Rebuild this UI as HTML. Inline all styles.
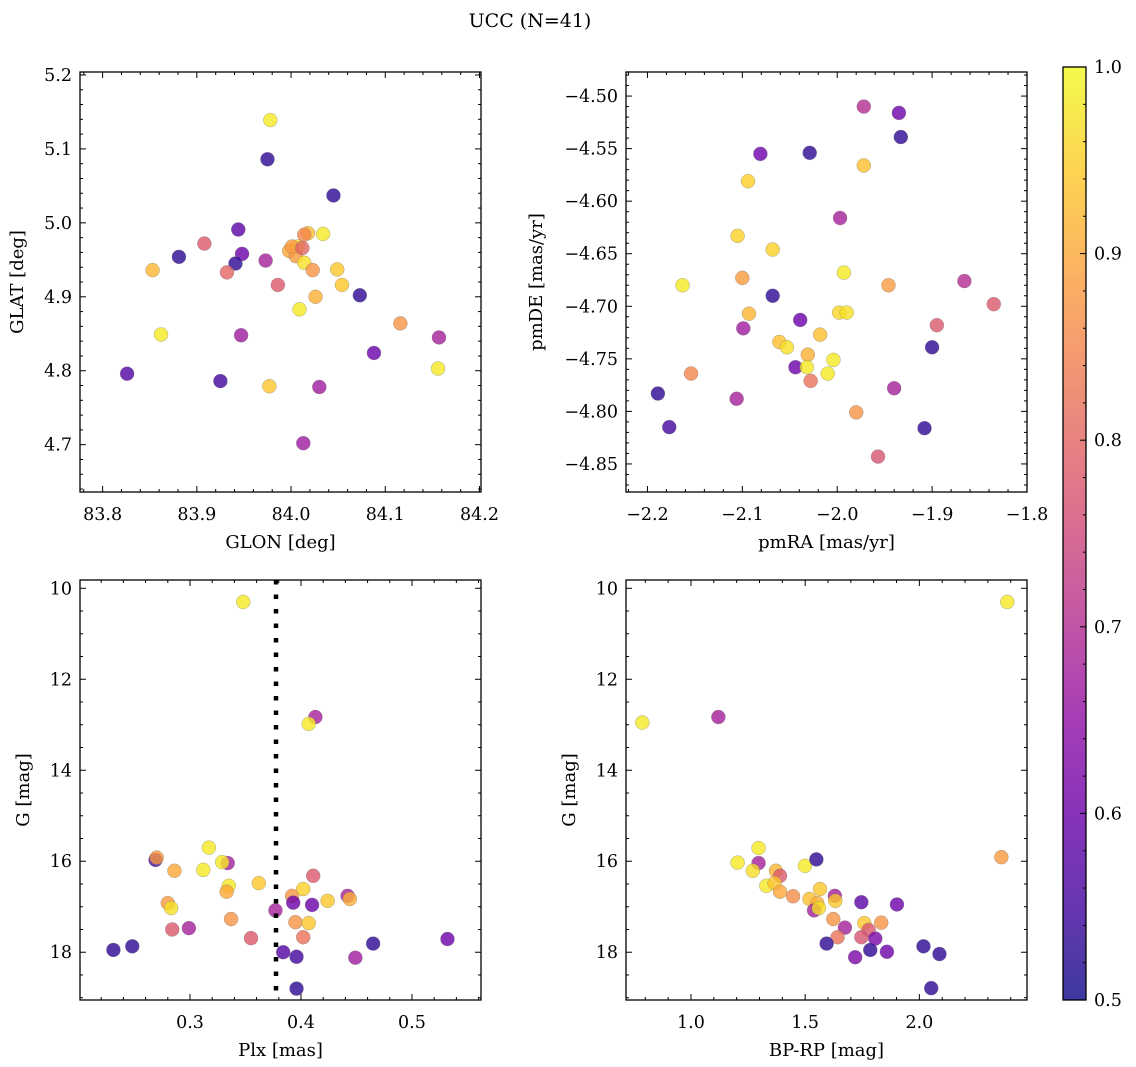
<!DOCTYPE html>
<html><head><meta charset="utf-8">
<style>
html,body{margin:0;padding:0;background:#fff;}
svg{display:block;font-family:"DejaVu Serif","Liberation Serif",serif;}
</style></head>
<body>
<svg id="fig" width="1136" height="1067" viewBox="0 0 1136 1067" xmlns="http://www.w3.org/2000/svg">
<text x="530" y="27" font-size="19" text-anchor="middle" fill="#000">UCC (N=41)</text>
</svg>
<script>
// ---- Panel 1: GLON vs GLAT ----
const p1Glon=[83.978,83.975,84.045,83.944,83.908,83.881,83.853,83.948,83.941,83.932,83.973,83.986,84.018,84.034,83.998,84.007,84.005,84.014,84.023,84.049,84.054,84.073,84.026,84.009,84.116,84.157,84.088,84.156,83.862,83.947,83.826,83.925,83.977,84.030,84.013,84.014,84.001,84.012];
const p1Glat=[5.139,5.086,5.037,4.991,4.972,4.954,4.936,4.958,4.945,4.933,4.949,4.916,4.986,4.985,4.962,4.968,4.955,4.946,4.936,4.937,4.916,4.902,4.900,4.883,4.864,4.845,4.824,4.803,4.849,4.848,4.796,4.786,4.779,4.778,4.702,4.984,4.968,4.966];
const p1Prob=[0.98,0.53,0.53,0.58,0.78,0.53,0.92,0.6,0.53,0.8,0.68,0.78,0.93,0.98,0.9,0.97,0.88,0.97,0.87,0.94,0.94,0.53,0.91,0.98,0.87,0.68,0.6,0.98,0.98,0.67,0.57,0.55,0.94,0.67,0.67,0.85,0.88,0.8];
// ---- Panel 2: pmRA vs pmDE ----
const p2PmRA=[-1.972,-1.935,-1.933,-2.081,-2.029,-1.972,-2.094,-1.997,-2.105,-2.068,-1.993,-2.163,-2.100,-1.946,-1.866,-1.835,-2.068,-2.093,-1.998,-1.990,-2.039,-2.099,-1.895,-2.018,-2.061,-2.053,-1.900,-2.031,-2.004,-2.044,-2.032,-2.010,-2.154,-2.028,-2.189,-2.106,-1.940,-1.980,-2.177,-1.908,-1.957];
const p2PmDE=[-4.510,-4.516,-4.539,-4.555,-4.554,-4.566,-4.581,-4.616,-4.633,-4.646,-4.668,-4.680,-4.673,-4.680,-4.676,-4.698,-4.690,-4.707,-4.706,-4.706,-4.713,-4.721,-4.718,-4.727,-4.734,-4.739,-4.739,-4.746,-4.751,-4.758,-4.758,-4.764,-4.764,-4.771,-4.783,-4.788,-4.778,-4.801,-4.815,-4.816,-4.843];
const p2Prob=[0.7,0.6,0.53,0.6,0.53,0.93,0.95,0.68,0.95,0.95,0.98,0.98,0.88,0.88,0.7,0.78,0.53,0.92,0.96,0.97,0.6,0.67,0.78,0.93,0.93,0.97,0.53,0.91,0.98,0.6,0.98,0.98,0.85,0.82,0.53,0.68,0.68,0.87,0.55,0.53,0.77];
// ---- Panel 3: Plx vs G ----
const p3Plx=[0.348,0.413,0.407,0.269,0.270,0.317,0.286,0.312,0.334,0.329,0.335,0.333,0.362,0.280,0.283,0.337,0.284,0.299,0.355,0.231,0.248,0.377,0.392,0.393,0.402,0.411,0.410,0.424,0.442,0.444,0.395,0.407,0.402,0.465,0.532,0.384,0.396,0.449,0.396];
const p3G=[10.30,12.83,12.98,15.97,15.92,15.70,16.21,16.19,16.04,16.02,16.54,16.67,16.48,16.92,17.03,17.27,17.50,17.47,17.69,17.95,17.87,17.08,16.76,16.91,16.61,16.32,16.96,16.87,16.76,16.83,17.34,17.36,17.67,17.81,17.71,18.00,18.10,18.12,18.80];
const p3Prob=[0.98,0.68,0.98,0.55,0.88,0.98,0.9,0.98,0.68,0.98,0.98,0.9,0.94,0.88,0.97,0.87,0.78,0.68,0.78,0.53,0.53,0.68,0.87,0.6,0.95,0.78,0.6,0.94,0.68,0.91,0.87,0.94,0.82,0.53,0.6,0.57,0.55,0.67,0.53];
const plxLine=0.3775;
// ---- Panel 4: BP-RP vs G ----
const p4Color=[2.385,0.787,1.12,2.359,1.296,1.204,1.296,1.271,1.499,1.549,1.372,1.390,1.330,1.366,1.390,1.447,1.565,1.519,1.553,1.539,1.560,1.630,1.632,1.746,1.902,1.623,1.759,1.833,1.674,1.778,1.642,1.746,1.807,1.594,2.018,1.785,1.858,2.088,1.719,2.052];
const p4G=[10.30,12.95,12.83,15.91,15.71,16.03,16.04,16.21,16.10,15.96,16.21,16.32,16.54,16.48,16.67,16.77,16.61,16.83,16.92,17.08,17.03,16.76,16.87,16.90,16.95,17.27,17.36,17.35,17.46,17.51,17.67,17.67,17.70,17.81,17.87,17.95,17.99,18.04,18.11,18.79];
const p4Prob=[0.98,0.98,0.68,0.88,0.98,0.98,0.68,0.97,0.98,0.53,0.92,0.78,0.98,0.94,0.9,0.86,0.94,0.93,0.91,0.68,0.97,0.68,0.94,0.58,0.6,0.87,0.94,0.87,0.68,0.78,0.82,0.77,0.62,0.53,0.53,0.53,0.6,0.53,0.62,0.53];
// ---- colorbar ----
const cbTicks=[0.5,0.6,0.7,0.8,0.9,1.0];

const NS="http://www.w3.org/2000/svg";
const svg=document.getElementById('fig');
function mk(tag,attrs,parent){const e=document.createElementNS(NS,tag);for(const k in attrs)e.setAttribute(k,attrs[k]);(parent||svg).appendChild(e);return e;}
const plasma=[[13,8,135],[65,4,157],[106,0,168],[143,13,164],[177,42,144],[204,71,120],[225,100,98],[242,132,75],[252,166,54],[252,206,37],[240,249,33]];
function cmap(v){let t=(v-0.5)/0.5;t=Math.max(0,Math.min(1,t));const s=t*10;const i=Math.min(9,Math.floor(s));const f=s-i;const a=plasma[i],b=plasma[i+1];return 'rgb('+[0,1,2].map(j=>Math.round(a[j]+(b[j]-a[j])*f)).join(',')+')';}
function fmt(v,d){const s=Math.abs(v).toFixed(d);return (v<-1e-9?'\u2212':'')+s;}

function panel(cfg){
  const g=mk('g',{});
  
  
  const X=v=>cfg.L+(v-cfg.x0)/(cfg.x1-cfg.x0)*(cfg.R-cfg.L);
  const Y=cfg.yInv? v=>cfg.T+(v-cfg.y0)/(cfg.y1-cfg.y0)*(cfg.B-cfg.T) : v=>cfg.B-(v-cfg.y0)/(cfg.y1-cfg.y0)*(cfg.B-cfg.T);
  const yLo=Math.min(cfg.y0,cfg.y1), yHi=Math.max(cfg.y0,cfg.y1);
  const pts=mk('g',{},g);
  
  
  for(let i=0;i<cfg.xs.length;i++){
    const c=mk('circle',{cx:X(cfg.xs[i]),cy:Y(cfg.ys[i]),r:7,fill:cmap(cfg.cs[i]),'fill-opacity':0.8,stroke:'#777','stroke-opacity':0.6,'stroke-width':0.5},pts);
    
    
  }
  if(cfg.vline!==undefined){
    const l=mk('line',{x1:X(cfg.vline),x2:X(cfg.vline),y1:cfg.T,y2:cfg.B,stroke:'#000','stroke-width':4.5,'stroke-dasharray':'4.5 10'},g);
    
    
  }
  const fr=mk('rect',{x:cfg.L,y:cfg.T,width:cfg.R-cfg.L,height:cfg.B-cfg.T,fill:'none',stroke:'#000','stroke-width':1.3},g);
  
  
  const eps=1e-9;
  const xs0=Math.ceil((cfg.x0-eps)/cfg.xmin), xs1=Math.floor((cfg.x1+eps)/cfg.xmin);
  for(let k=xs0;k<=xs1;k++){
    const v=k*cfg.xmin;const px=X(v);
    const major=Math.abs(v/cfg.xmaj-Math.round(v/cfg.xmaj))<1e-6;
    const len=major?6:3;
    mk('line',{x1:px,x2:px,y1:cfg.B,y2:cfg.B-len,stroke:'#000','stroke-width':1},g);
    mk('line',{x1:px,x2:px,y1:cfg.T,y2:cfg.T+len,stroke:'#000','stroke-width':1},g);
    if(major){const t=mk('text',{x:px,y:cfg.B+28,'font-size':17.5,'text-anchor':'middle'},g);t.textContent=fmt(v,cfg.xd);
      }
  }
  const ys0=Math.ceil((yLo-eps)/cfg.ymin), ys1=Math.floor((yHi+eps)/cfg.ymin);
  for(let k=ys0;k<=ys1;k++){
    const v=k*cfg.ymin;const py=Y(v);
    const major=Math.abs(v/cfg.ymaj-Math.round(v/cfg.ymaj))<1e-6;
    const len=major?6:3;
    mk('line',{x1:cfg.L,x2:cfg.L+len,y1:py,y2:py,stroke:'#000','stroke-width':1},g);
    mk('line',{x1:cfg.R,x2:cfg.R-len,y1:py,y2:py,stroke:'#000','stroke-width':1},g);
    if(major){const t=mk('text',{x:cfg.L-8,y:py+6,'font-size':17.5,'text-anchor':'end'},g);t.textContent=fmt(v,cfg.yd);
      }
  }
  const xl=mk('text',{x:(cfg.L+cfg.R)/2,y:cfg.B+56,'font-size':18,'text-anchor':'middle'},g);
  xl.textContent=cfg.xlabel;
  
  
  const cy=(cfg.T+cfg.B)/2;
  const yl=mk('text',{x:cfg.ylx,y:cy,'font-size':18,'text-anchor':'middle',transform:'rotate(-90 '+cfg.ylx+' '+cy+')'},g);
  yl.textContent=cfg.ylabel;
  
  
}

panel({name:'glon-glat-panel',L:80,R:481,T:72,B:492,x0:83.776,x1:84.2016,y0:4.636,y1:5.204,xs:p1Glon,ys:p1Glat,cs:p1Prob,xmaj:0.1,xmin:0.02,ymaj:0.1,ymin:0.02,xd:1,yd:1,xlabel:'GLON [deg]',ylabel:'GLAT [deg]',ylx:23});
panel({name:'pmra-pmde-panel',L:626,R:1027,T:72,B:492,x0:-2.2226,x1:-1.8,y0:-4.8767,y1:-4.4771,xs:p2PmRA,ys:p2PmDE,cs:p2Prob,xmaj:0.1,xmin:0.02,ymaj:0.05,ymin:0.01,xd:1,yd:2,xlabel:'pmRA [mas/yr]',ylabel:'pmDE [mas/yr]',ylx:542});
panel({name:'plx-g-panel',L:80,R:481,T:580,B:1000,x0:0.2009,x1:0.5622,y0:9.818,y1:19.05,yInv:true,xs:p3Plx,ys:p3G,cs:p3Prob,xmaj:0.1,xmin:0.02,ymaj:2,ymin:0.5,xd:1,yd:0,xlabel:'Plx [mas]',ylabel:'G [mag]',ylx:29,vline:plxLine});
panel({name:'bprp-g-panel',L:626,R:1027,T:580,B:1000,x0:0.7155,x1:2.4713,y0:9.818,y1:19.05,yInv:true,xs:p4Color,ys:p4G,cs:p4Prob,xmaj:0.5,xmin:0.1,ymaj:2,ymin:0.5,xd:1,yd:0,xlabel:'BP-RP [mag]',ylabel:'G [mag]',ylx:575});

(function(){
  const L=1063,R=1086,T=67,B=1000;
  const g=mk('g',{});
  
  
  const defs=mk('defs',{},g);
  const lg=mk('linearGradient',{id:'cbg',x1:0,y1:1,x2:0,y2:0},defs);
  for(let i=0;i<=10;i++){const v=0.5+i*0.05;mk('stop',{offset:(i/10),'stop-color':cmap(v),'stop-opacity':0.8},lg);}
  const r=mk('rect',{x:L,y:T,width:R-L,height:B-T,fill:'url(#cbg)',stroke:'#000','stroke-width':1.3},g);
  
  
  const Y=v=>B-(v-0.5)/0.5*(B-T);
  for(let k=25;k<=50;k++){const v=k*0.02;const py=Y(v);const major=(k%5===0);
    mk('line',{x1:R,x2:R-(major?6:3),y1:py,y2:py,stroke:'#000','stroke-width':1},g);}
  cbTicks.forEach(v=>{const t=mk('text',{x:R+8,y:Y(v)+6,'font-size':17.5},g);t.textContent=v.toFixed(1);
    
    });
})();
</script>
</body></html>
